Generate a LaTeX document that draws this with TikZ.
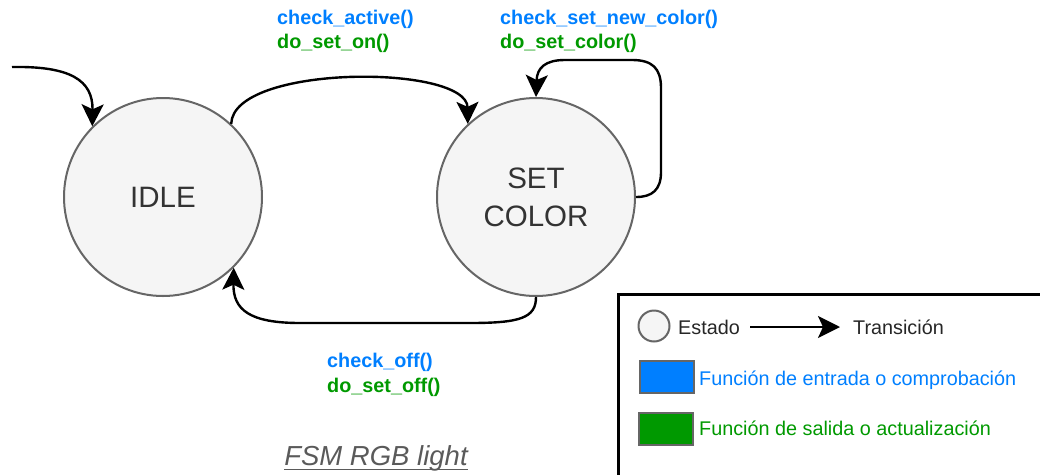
\documentclass[tikz,border=0pt]{standalone}
\usepackage{fontspec}
\setmainfont{Liberation Sans}
\usetikzlibrary{arrows.meta}
\definecolor{cblue}{HTML}{007FFF}
\definecolor{cgreen}{HTML}{009900}
\definecolor{sfill}{HTML}{F5F5F5}
\definecolor{sline}{HTML}{666666}
\definecolor{stext}{HTML}{333333}
\definecolor{ttl}{HTML}{5A5A5A}
\begin{document}
\begin{tikzpicture}[x=1pt,y=-1pt,
  state/.style={circle, draw=sline, fill=sfill, line width=2pt, minimum size=198pt, inner sep=0pt, text=stext, font=\fontsize{29.5}{38}\selectfont, align=center},
  conn/.style={line width=2.4pt, -{Stealth[length=22pt,width=22pt,inset=5pt]}},
  chk/.style={anchor=base west, inner sep=0pt, text=cblue, font=\fontsize{19.8}{23}\selectfont\bfseries},
  act/.style={chk, text=cgreen},
  legtxt/.style={anchor=base west, inner sep=0pt, font=\fontsize{19.8}{23}\selectfont},
  legbox/.style={draw=sline, line width=2pt, minimum width=54pt, minimum height=32pt, inner sep=0pt},
]
\useasboundingbox (0,0) rectangle (1040,474);
\clip (0,0) rectangle (1040,474);

% states
\node[state] (idle) at (163,197) {IDLE};
\node[state] (set) at (536,197) {SET\\COLOR};

% initial transition
\coordinate (start) at (12,67);
\draw[conn] (start) .. controls (70,66) and (93,80) .. (idle.135);

% IDLE -> SET COLOR
\draw[conn] (idle.47) .. controls (233,64) and (467,64) .. (set.133);

% self loop
\draw[conn] (set.east) .. controls (652,197) and (661,190) .. (661,172) -- (661,88)
  .. controls (661,68) and (652,60) .. (632,60) -- (565,60)
  .. controls (545,60) and (537,68) .. (set.north);

% SET COLOR -> IDLE
\draw[conn] (set.south) .. controls (536,318) and (520,323) .. (470,323) -- (300,323)
  .. controls (250,323) and (233,310) .. (idle.-45);

% labels
\node[chk] (l1a) at (277,24) {check\_active()};
\node[act] (l1b) at (277,48) {do\_set\_on()};
\node[chk] (l2a) at (500,24) {check\_set\_new\_color()};
\node[act] (l2b) at (500,48) {do\_set\_color()};
\node[chk] (l3a) at (327,367) {check\_off()};
\node[act] (l3b) at (327,392) {do\_set\_off()};

% title
\node[anchor=base, inner sep=0pt, text=ttl, font=\fontsize{27.5}{30}\selectfont\itshape] (title) at (376,465) {FSM RGB light};
\draw[ttl, line width=1.5pt] ([yshift=-4.5pt]title.base west) -- ([yshift=-4.5pt]title.base east);

% legend
\node[draw=black, line width=2.5pt, anchor=north west, minimum width=440pt, minimum height=200pt, inner sep=0pt] (legend) at (617,293) {};
\node[circle, draw=sline, fill=sfill, line width=2pt, minimum size=31pt, inner sep=0pt] (lcirc) at (654,326) {};
\node[legtxt, text=black!85] (lest) at (678,334) {Estado};
\coordinate (la1) at (750,327);
\coordinate (la2) at (840,327);
\draw[conn] (la1) -- (la2);
\node[legtxt, text=black!85] (ltr) at (853,334) {Transición};
\node[legbox, fill=cblue] (lb) at (666.5,376.5) {};
\node[legtxt, text=cblue] (lbt) at (699,385) {Función de entrada o comprobación};
\node[legbox, fill=cgreen] (lg) at (665.5,428.5) {};
\node[legtxt, text=cgreen] (lgt) at (699,435) {Función de salida o actualización};
\end{tikzpicture}
\end{document}
